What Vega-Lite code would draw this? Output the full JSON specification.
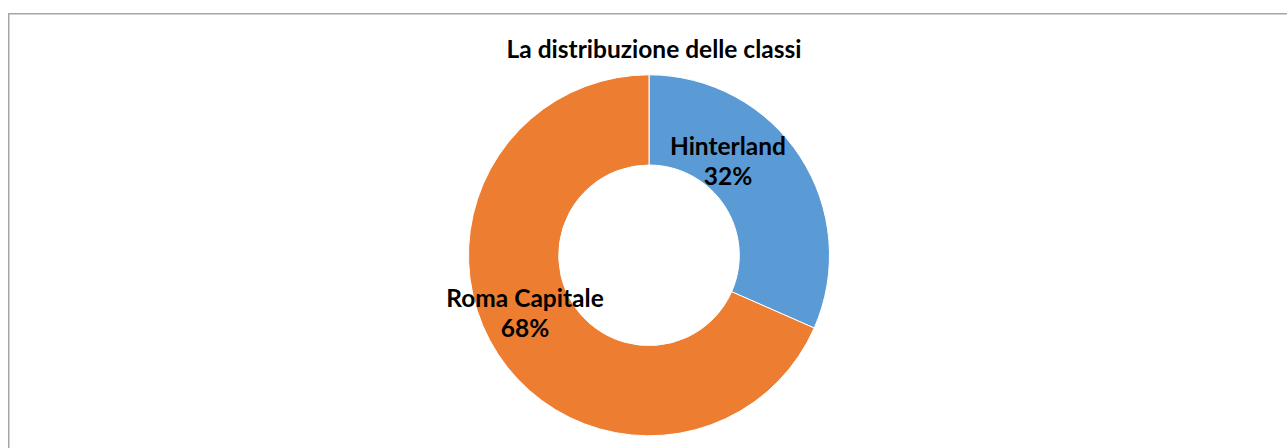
{
  "$schema": "https://vega.github.io/schema/vega-lite/v6.json",
  "autosize": {"type": "none"},
  "padding": {"left": 8.75, "top": 13.75, "right": -2.25, "bottom": -48.85},
  "width": 1280.5,
  "height": 483.1,
  "background": "white",
  "view": {"stroke": "#a6a6a6", "strokeWidth": 1.5, "fill": "white"},
  "config": {"view": {"stroke": "#a6a6a6", "strokeWidth": 1.5}},
  "title": {
    "text": "La distribuzione delle classi",
    "font": "Lato",
    "fontSize": 24.5,
    "fontWeight": "bold",
    "color": "#000000",
    "anchor": "middle",
    "offset": -50,
    "dx": 5
  },
  "data": {
    "values": [
      {"classe": "Hinterland", "quota": 31.6, "etichetta": ["Hinterland", "32%"]},
      {"classe": "Roma Capitale", "quota": 68.4, "etichetta": ["Roma Capitale", "68%"]}
    ]
  },
  "encoding": {
    "theta": {"field": "quota", "type": "quantitative", "stack": true}
  },
  "layer": [
    {
      "mark": {"type": "arc", "innerRadius": 90.3, "outerRadius": 180.5, "stroke": "white", "strokeWidth": 1},
      "encoding": {
        "color": {
          "field": "classe",
          "type": "nominal",
          "scale": {"domain": ["Hinterland", "Roma Capitale"], "range": ["#5B9BD5", "#ED7D31"]},
          "legend": null
        }
      }
    },
    {
      "mark": {"type": "text", "radius": 133.4, "thetaOffset": -0.3592, "font": "Lato", "fontSize": 24.5, "fontWeight": "bold", "lineHeight": 30, "baseline": "middle", "align": "center", "color": "#000000"},
      "encoding": {
        "detail": {"field": "classe", "type": "nominal"},
        "text": {"condition": {"test": "datum.classe === 'Hinterland'", "field": "etichetta"}, "value": ""}
      }
    },
    {
      "mark": {"type": "text", "radius": 131.9, "thetaOffset": 0.23, "font": "Lato", "fontSize": 24.5, "fontWeight": "bold", "lineHeight": 30, "baseline": "middle", "align": "center", "color": "#000000"},
      "encoding": {
        "detail": {"field": "classe", "type": "nominal"},
        "text": {"condition": {"test": "datum.classe === 'Roma Capitale'", "field": "etichetta"}, "value": ""}
      }
    }
  ]
}
